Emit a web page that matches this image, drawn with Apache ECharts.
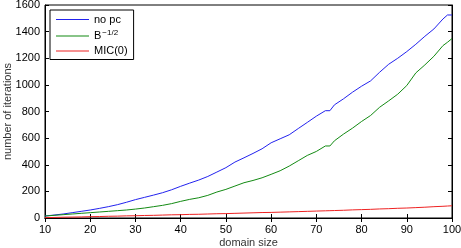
<!DOCTYPE html>
<html>
<head>
<meta charset="utf-8">
<script src="https://cdn.jsdelivr.net/npm/echarts@6/dist/echarts.min.js"></script>
<style>
  html, body { margin: 0; padding: 0; background: #fff; }
  #chart { width: 461px; height: 248px; }
</style>
</head>
<body>
<div id="chart"></div>
<script>
// domain size (x)
const domainSize = [10, 12, 14, 16, 18, 20, 22, 24, 26, 28, 30, 32, 34, 36, 38, 40, 42, 44, 46, 48,
  50, 52, 54, 56, 58, 60, 62, 64, 66, 68, 70, 72, 73, 74, 76, 78, 80, 82, 84, 86, 88, 90, 92, 94, 96, 98, 99, 100];
// number of iterations per series
const noPc = [15, 22, 30, 40, 50, 60, 72, 85, 100, 118, 138, 155, 172, 190, 212, 238, 262, 285, 312, 345,
  378, 420, 452, 485, 520, 565, 595, 625, 672, 718, 765, 806, 806, 850, 895, 945, 990, 1030, 1095, 1155, 1200, 1250, 1305, 1365, 1420, 1495, 1525, 1525];
const bHalf = [15, 20, 25, 30, 35, 40, 45, 50, 55, 60, 67, 75, 85, 95, 108, 125, 140, 152, 170, 195,
  215, 240, 265, 282, 302, 328, 355, 390, 430, 470, 500, 541, 541, 580, 630, 675, 725, 770, 832, 880, 930, 995, 1090, 1150, 1215, 1295, 1320, 1348];
const mic0 = [3, 4, 6, 7, 8, 10, 11, 13, 14, 16, 17, 19, 20, 22, 24, 25, 27, 28, 30, 32,
  33, 35, 37, 39, 41, 42, 44, 46, 48, 50, 52, 54, 55, 56, 58, 61, 63, 65, 68, 70, 73, 75, 78, 81, 85, 88, 90, 92];
const xTicks = { min: 10, max: 100, step: 10 };
const yTicks = { min: 0, max: 1600, step: 200 };

const pairs = arr => domainSize.map((x, i) => [x, arr[i]]);
const font = '"Liberation Sans", Arial, sans-serif';

const chart = echarts.init(document.getElementById('chart'));
const baseX = {
  type: 'value', min: xTicks.min, max: xTicks.max, interval: xTicks.step,
  axisLine: { show: true, lineStyle: { color: '#000', width: 1 } },
  axisTick: { show: true, inside: true, length: 4, lineStyle: { color: '#000' } },
  splitLine: { show: false }
};
const baseY = {
  type: 'value', min: yTicks.min, max: yTicks.max, interval: yTicks.step,
  axisLine: { show: true, lineStyle: { color: '#000', width: 1 } },
  axisTick: { show: true, inside: true, length: 4, lineStyle: { color: '#000' } },
  splitLine: { show: false }
};
const option = {
  animation: false,
  backgroundColor: '#fff',
  textStyle: { fontFamily: font },
  grid: {
    left: 45, right: 9, top: 5, bottom: 30, show: true, borderColor: '#000', borderWidth: 1,
    containLabel: false, outerBoundsMode: 'none'
  },
  legend: {
    orient: 'vertical', left: 50, top: 10,
    backgroundColor: '#fff', borderColor: '#000', borderWidth: 1,
    padding: [4, 6, 3, 6], itemGap: 4, itemWidth: 33, itemHeight: 1,
    icon: 'rect',
    textStyle: {
      fontFamily: font, fontSize: 11, color: '#000',
      rich: {
        b: { fontFamily: font, fontSize: 11, color: '#000' },
        sup: { fontFamily: font, fontSize: 8, color: '#000', verticalAlign: 'top', padding: [0, 0, 6, 1] }
      }
    },
    formatter: function (name) {
      if (name === 'B^-1/2') return '{b|B}{sup|−1/2}';
      return name;
    },
    data: ['no pc', 'B^-1/2', 'MIC(0)']
  },
  xAxis: [
    Object.assign({}, baseX, {
      position: 'bottom',
      name: 'domain size', nameLocation: 'middle', nameGap: 19, nameMoveOverlap: false,
      nameTextStyle: { fontFamily: font, fontSize: 11, color: '#333' },
      axisLabel: { fontFamily: font, fontSize: 11, color: '#000', margin: 6 }
    }),
    Object.assign({}, baseX, { position: 'top', axisLabel: { show: false } })
  ],
  yAxis: [
    Object.assign({}, baseY, {
      position: 'left',
      name: 'number of iterations', nameLocation: 'middle', nameGap: 32, nameMoveOverlap: false,
      nameTextStyle: { fontFamily: font, fontSize: 11, color: '#333' },
      axisLabel: { fontFamily: font, fontSize: 11, color: '#000', margin: 5, formatter: v => String(v) }
    }),
    Object.assign({}, baseY, { position: 'right', axisLabel: { show: false } })
  ],
  series: [
    { name: 'no pc', type: 'line', data: pairs(noPc), symbol: 'none', color: '#2222ee', lineStyle: { width: 1 } },
    { name: 'B^-1/2', type: 'line', data: pairs(bHalf), symbol: 'none', color: '#138a13', lineStyle: { width: 1 } },
    { name: 'MIC(0)', type: 'line', data: pairs(mic0), symbol: 'none', color: '#ee2222', lineStyle: { width: 1 } }
  ]
};
chart.setOption(option);
</script>
</body>
</html>
